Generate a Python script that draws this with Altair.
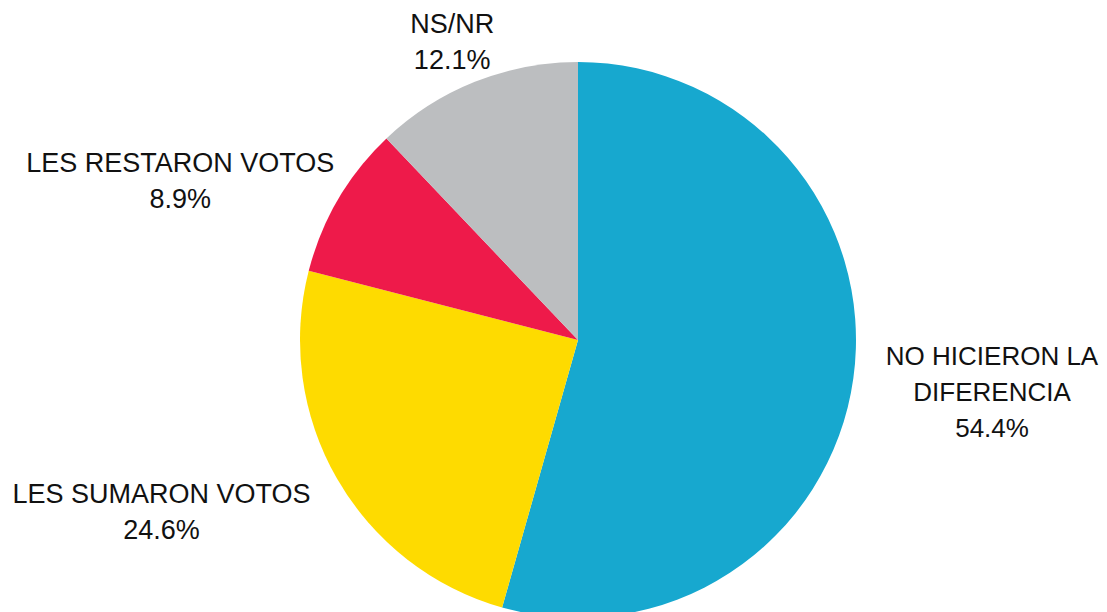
import altair as alt
import pandas as pd

categories = ["NO HICIERON LA DIFERENCIA", "LES SUMARON VOTOS", "LES RESTARON VOTOS", "NS/NR"]
values = [54.4, 24.6, 8.9, 12.1]
colors = ["#17A8CF", "#FEDB00", "#EE1A4A", "#BCBEC0"]
label_text = ["NO HICIERON LA\nDIFERENCIA", "LES SUMARON VOTOS", "LES RESTARON VOTOS", "NS/NR"]

df = pd.DataFrame({
    "cat": categories,
    "value": values,
    "order": list(range(len(categories))),
    "label": [f"{t}\n{v:.1f}%" for t, v in zip(label_text, values)],
})

theta_scale = alt.Scale(domain=[0, 100])
base = alt.Chart(df)

arc = base.mark_arc(radius=278, stroke=None).encode(
    theta=alt.Theta("value:Q", stack=True, scale=theta_scale),
    color=alt.Color("cat:N", scale=alt.Scale(domain=categories, range=colors), legend=None),
    order=alt.Order("order:Q"),
)

label_base = base.transform_window(
    cum="sum(value)", sort=[alt.SortField("order")], frame=[None, 0]
).transform_calculate(mid="datum.cum - datum.value / 2")

# (category, radius, dx, dy, fontSize) label placement
placements = [
    (categories[0], 416, 2, -40, 26),
    (categories[1], 440, -35, -64, 27),
    (categories[2], 430, -27, 42, 27),
    (categories[3], 323, -6, -15, 27),
]

layers = [arc]
for cat, r, dx, dy, fs in placements:
    layers.append(
        label_base.transform_filter(alt.datum.cat == cat).mark_text(
            radius=r, dx=dx, dy=dy, fontSize=fs, lineHeight=36,
            font="Liberation Sans", color="#111111", lineBreak="\n",
            align="center", baseline="middle",
        ).encode(
            theta=alt.Theta("mid:Q", stack=None, scale=theta_scale),
            text="label:N",
        )
    )

chart = alt.layer(*layers).properties(
    width=1042, height=600,
    padding={"left": 49, "top": 32, "right": 0, "bottom": 0},
    autosize=alt.AutoSizeParams(type="none"),
).configure_view(stroke=None)

chart.save("out.html", embed_options={"renderer": "svg", "actions": False})
